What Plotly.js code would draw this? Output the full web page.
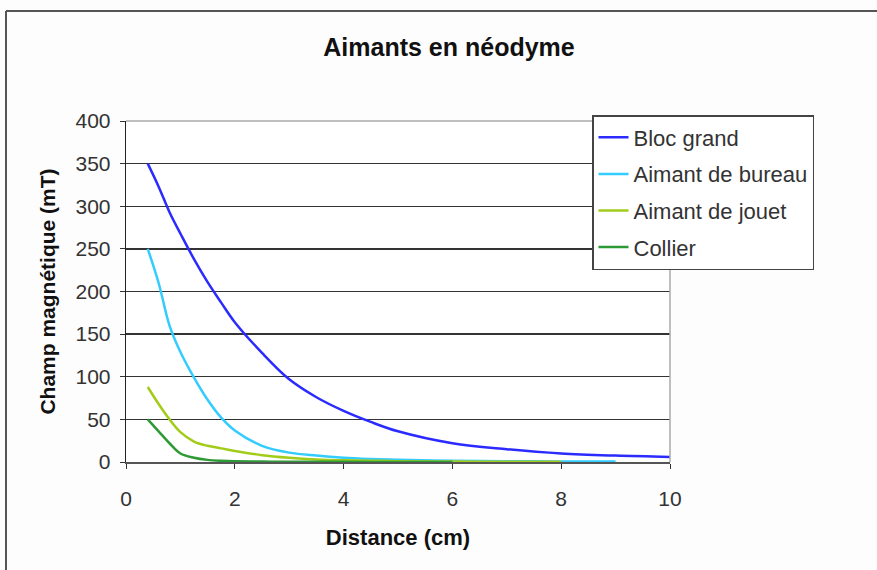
<!DOCTYPE html>
<html>
<head>
<meta charset="utf-8">
<script src="https://cdn.plot.ly/plotly-3.0.1.min.js"></script>
<style>html,body{margin:0;padding:0;background:#fdfdfd;}#chart{width:877px;height:570px;}</style>
</head>
<body>
<div id="chart"></div>
<script>
// Data
const seriesNames = ["Bloc grand", "Aimant de bureau", "Aimant de jouet", "Collier"];

const xBloc = [0.4, 0.6, 0.8, 1, 1.25, 1.5, 1.75, 2, 2.5, 3, 3.5, 4, 4.5, 5, 6, 7, 8, 9, 10];
const yBloc = [350, 323, 293, 268, 238, 211, 187, 164, 128, 97, 76, 60, 47, 36, 22, 15, 10, 7.5, 6];

const xBureau = [0.4, 0.6, 0.8, 1, 1.25, 1.5, 1.75, 2, 2.5, 3, 3.5, 4, 4.5, 5, 6, 7, 8, 9];
const yBureau = [250, 210, 160, 129, 99, 73, 52, 37, 19, 11, 7.5, 5, 3.5, 2.5, 1.5, 1, 0.7, 0.5];

const xJouet = [0.4, 0.6, 0.8, 1, 1.25, 1.5, 1.75, 2, 2.5, 3, 3.5, 4, 4.5, 5, 6, 7, 8];
const yJouet = [88, 68, 50, 35, 24, 19, 16, 13, 8, 5, 3, 2, 1.5, 1, 0.5, 0.3, 0.2];

const xCollier = [0.4, 0.6, 0.8, 1, 1.25, 1.5, 1.75, 2, 2.5, 3, 4, 5, 6];
const yCollier = [50, 36, 22, 10, 5, 2.5, 1.5, 1, 0.5, 0.3, 0.2, 0.1, 0.1];

const xTicks = [0, 2, 4, 6, 8, 10];
const yTicks = [0, 50, 100, 150, 200, 250, 300, 350, 400];

const colors = ["#2b2bff", "#33ccff", "#a3cc1a", "#2e9a36"];
const xs = [xBloc, xBureau, xJouet, xCollier];
const ys = [yBloc, yBureau, yJouet, yCollier];

const traces = seriesNames.map((n, i) => ({
  x: xs[i], y: ys[i], name: n, type: "scatter", mode: "lines",
  line: {color: colors[i], width: 2.5, shape: "spline", smoothing: 1},
  legendgroup: "g" + i
}));

const fontFam = "Liberation Sans, Arial, sans-serif";

const layout = {
  width: 877, height: 570,
  margin: {l: 126, r: 207, t: 121, b: 108},
  paper_bgcolor: "#fdfdfd",
  plot_bgcolor: "#ffffff",
  font: {family: fontFam, color: "#333", size: 20},
  title: {text: "<b>Aimants en néodyme</b>", x: 449 / 877, xanchor: "center", y: 1 - 47/570, yanchor: "middle",
          font: {family: fontFam, size: 25, color: "#111"}},
  xaxis: {
    range: [0, 10], tickvals: xTicks, ticktext: xTicks.map(String),
    showgrid: false, zeroline: false,
    showline: true, linecolor: "#555", linewidth: 2,
    ticks: "outside", ticklen: 5, tickcolor: "#333", tickwidth: 1,
    ticklabelstandoff: 12,
    tickfont: {size: 21, color: "#333"},
    title: {text: "<b>Distance (cm)</b>", standoff: 20, font: {size: 22, color: "#111"}}
  },
  yaxis: {
    range: [0, 400], tickvals: yTicks, ticktext: yTicks.map(String),
    showgrid: true, gridcolor: "#333", gridwidth: 1.3, zeroline: false,
    showline: true, linecolor: "#222", linewidth: 1.3,
    ticks: "outside", ticklen: 5, tickcolor: "#333", tickwidth: 1,
    ticklabelstandoff: 5,
    tickfont: {size: 21, color: "#333"},
    title: {text: "<b>Champ magnétique (mT)</b>", standoff: 14, font: {size: 21, color: "#111"}}
  },
  legend: {
    x: (592 - 126) / 544, y: (462 - 115) / 341, xanchor: "left", yanchor: "top",
    bgcolor: "#ffffff", bordercolor: "#444", borderwidth: 1.5,
    font: {size: 22, color: "#333"}, tracegroupgap: 5
  },
  showlegend: true,
  shapes: [
    {type: "line", xref: "paper", yref: "paper", x0: 0, x1: 1, y0: 1, y1: 1, line: {color: "#aaa", width: 1.5}, layer: "above"},
    {type: "line", xref: "paper", yref: "paper", x0: 1, x1: 1, y0: 0, y1: 1, line: {color: "#aaa", width: 1.5}, layer: "above"},
    {type: "line", xref: "paper", yref: "paper", x0: (6 - 126) / 544, x1: 2, y0: (462 - 11) / 341, y1: (462 - 11) / 341, line: {color: "#555", width: 2}},
    {type: "line", xref: "paper", yref: "paper", x0: (6 - 126) / 544, x1: (6 - 126) / 544, y0: -1, y1: (462 - 11) / 341, line: {color: "#555", width: 2}}
  ]
};

Plotly.newPlot("chart", traces, layout, {displayModeBar: false, staticPlot: true});
</script>
</body>
</html>
